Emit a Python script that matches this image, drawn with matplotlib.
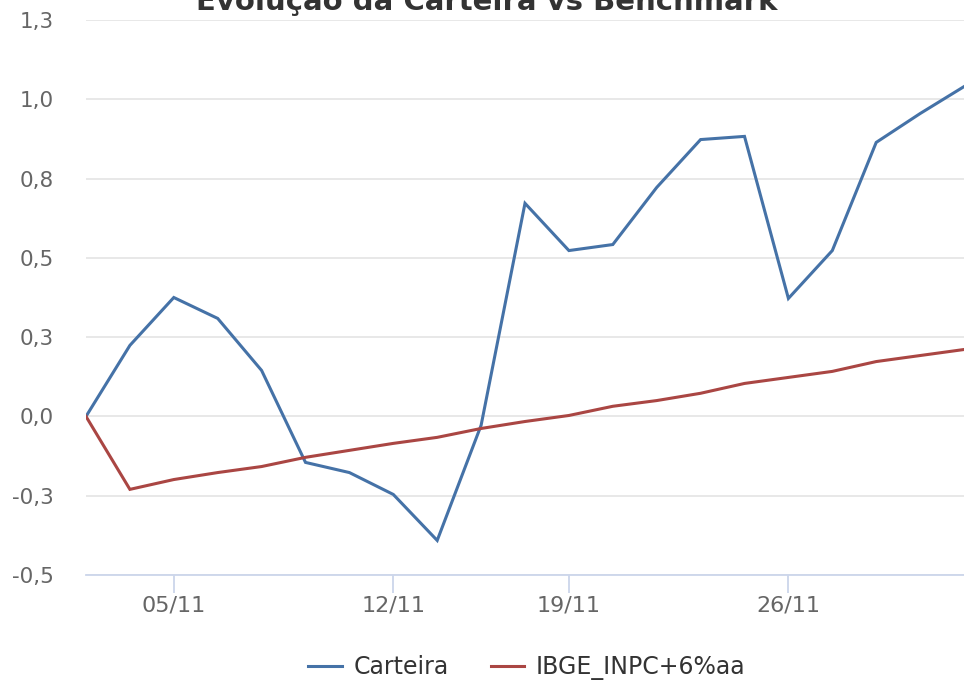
import matplotlib
matplotlib.use("Agg")
import matplotlib.pyplot as plt

# dias úteis de nov/2018
datas = ['31/10', '01/11', '05/11', '06/11', '07/11', '08/11', '09/11',
         '12/11', '13/11', '14/11', '16/11', '19/11', '20/11', '21/11',
         '22/11', '23/11', '26/11', '27/11', '28/11', '29/11', '30/11']
carteira = [0.0, 0.224, 0.375, 0.309, 0.145, -0.145, -0.177, -0.246, -0.391,
            -0.028, 0.672, 0.523, 0.542, 0.722, 0.873, 0.883, 0.372, 0.523,
            0.864, 0.955, 1.04]
benchmark = [0.0, -0.230, -0.199, -0.177, -0.158, -0.129, -0.107, -0.085,
             -0.066, -0.038, -0.016, 0.003, 0.032, 0.050, 0.073, 0.104,
             0.123, 0.142, 0.173, 0.192, 0.211]
x_labels = ['05/11', '12/11', '19/11', '26/11']
y_ticks = [-0.5, -0.25, 0.0, 0.25, 0.5, 0.75, 1.0, 1.25]
y_labels = ['-0,5', '-0,3', '0,0', '0,3', '0,5', '0,8', '1,0', '1,3']

fig = plt.figure(figsize=(9.64, 6.83), dpi=100)
ax = fig.add_axes([86/964, 1 - 575/683, 1 - 86/964, (575 - 20)/683])

idx = list(range(len(datas)))
ax.plot(idx, carteira, color='#4572A7', lw=2.2, label='Carteira', solid_joinstyle='miter')
ax.plot(idx, benchmark, color='#AA4643', lw=2.2, label='IBGE_INPC+6%aa', solid_joinstyle='miter')

ax.set_xlim(0, 20)
ax.set_ylim(-0.5, 1.25)

ax.set_yticks(y_ticks)
ax.set_yticklabels(y_labels)
ax.set_xticks([datas.index(d) for d in x_labels])
ax.set_xticklabels(x_labels)

ax.grid(axis='y', color='#e6e6e6', lw=1.3)
ax.set_axisbelow(True)
for s in ['top', 'right', 'left']:
    ax.spines[s].set_visible(False)
ax.spines['bottom'].set_color('#ccd6eb')
ax.spines['bottom'].set_linewidth(1.3)
ax.tick_params(axis='x', length=13, width=1.3, color='#ccd6eb', pad=2,
               labelsize=16, labelcolor='#666666')
ax.tick_params(axis='y', length=0, pad=23, labelsize=15.5, labelcolor='#666666')

fig.text(487/964, 1 - 10/683, 'Evolução da Carteira vs Benchmark', ha='center',
         va='baseline', fontsize=21, fontweight='bold', color='#333333')

fig.legend(loc='center', bbox_to_anchor=(527/964, 1 - 668/683), ncol=2,
           frameon=False, fontsize=17, handlelength=1.4, columnspacing=1.8,
           handletextpad=0.5, labelcolor='#333333')

fig.savefig('out.png', dpi=100)
